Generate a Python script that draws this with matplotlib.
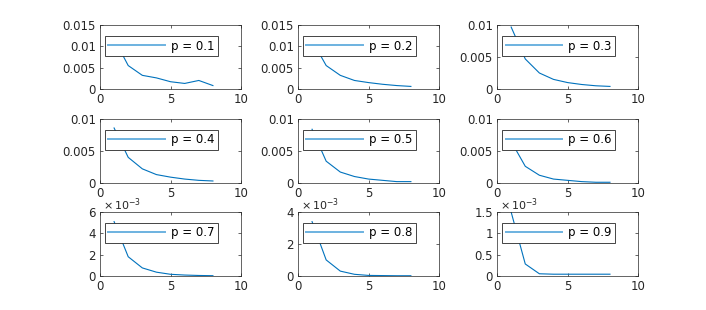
import matplotlib
matplotlib.use("Agg")
import matplotlib.pyplot as plt
from matplotlib.ticker import FuncFormatter

plt.rcParams['font.family'] = ['DejaVu Sans']

x = [1, 2, 3, 4, 5, 6, 7, 8]
p_labels = ['p = 0.1', 'p = 0.2', 'p = 0.3', 'p = 0.4', 'p = 0.5',
            'p = 0.6', 'p = 0.7', 'p = 0.8', 'p = 0.9']

y_p01 = [0.0118, 0.0055, 0.0032, 0.0026, 0.0017, 0.0013, 0.0020, 0.0008]
y_p02 = [0.0114, 0.0055, 0.0032, 0.0020, 0.0015, 0.0011, 0.0008, 0.0006]
y_p03 = [0.0097, 0.0047, 0.0025, 0.0015, 0.0010, 0.0007, 0.0005, 0.0004]
y_p04 = [0.0086, 0.0040, 0.0022, 0.0013, 0.0009, 0.0006, 0.0004, 0.0003]
y_p05 = [0.0084, 0.0034, 0.0017, 0.0010, 0.0006, 0.0004, 0.0002, 0.0002]
y_p06 = [0.0065, 0.0026, 0.0012, 0.0006, 0.0004, 0.0002, 0.0001, 0.0001]
y_p07 = [0.0051, 0.0018, 0.00075, 0.00035, 0.00015, 0.00008, 0.00004, 0.00002]
y_p08 = [0.0034, 0.0010, 0.0003, 0.0001, 0.00003, 0.00002, 0.00001, 0.00001]
y_p09 = [0.0015, 0.00028, 0.00005, 0.00004, 0.00004, 0.00004, 0.00004, 0.00004]
series = [y_p01, y_p02, y_p03, y_p04, y_p05, y_p06, y_p07, y_p08, y_p09]

y_limits = [0.015, 0.015, 0.01, 0.01, 0.01, 0.01, 0.006, 0.004, 0.0015]
y_steps = [0.005, 0.005, 0.005, 0.005, 0.005, 0.005, 0.002, 0.002, 0.0005]
sci = [False] * 6 + [True] * 3

fig = plt.figure(figsize=(7.06, 3.10), dpi=100)
lefts = [0.1416, 0.422, 0.704]
bottoms = [0.713, 0.41, 0.11]
w, h = 0.2, 0.206
axcol = '#262626'

for i, y in enumerate(series):
    r, c = divmod(i, 3)
    ax = fig.add_axes([lefts[c], bottoms[r], w, h])
    ax.plot(x, y, color='#0072BD', lw=0.8, label=p_labels[i])
    ax.set_xlim(0, 10)
    ax.set_ylim(0, y_limits[i])
    ax.set_xticks([0, 5, 10])
    n = int(round(y_limits[i] / y_steps[i]))
    ax.set_yticks([k * y_steps[i] for k in range(n + 1)])
    if sci[i]:
        ax.yaxis.set_major_formatter(FuncFormatter(lambda v, pos: '%g' % round(v * 1000, 6)))
        ax.text(0.02, 0.99, r'$\times\,$10$^{\mathregular{-3}}$', transform=ax.transAxes,
                fontsize=8, color=axcol, ha='left', va='bottom')
    else:
        ax.yaxis.set_major_formatter(FuncFormatter(lambda v, pos: '%g' % round(v, 6)))
    ax.tick_params(direction='in', top=True, right=True, length=2.5, width=0.5,
                   labelsize=8.5, colors=axcol, pad=3)
    for s in ax.spines.values():
        s.set_linewidth(0.5)
        s.set_color(axcol)
    leg = ax.legend(loc='upper left', bbox_to_anchor=(0.035, 0.83), borderaxespad=0,
                    fancybox=False, edgecolor=axcol, framealpha=1, fontsize=8.5,
                    handlelength=4.8, borderpad=0.3, handletextpad=0.5)
    leg.get_frame().set_linewidth(0.6)
    for ln in leg.get_lines():
        ln.set_color('#6CB2E0')
        ln.set_linewidth(1.4)

fig.savefig('out.png', dpi=100)
